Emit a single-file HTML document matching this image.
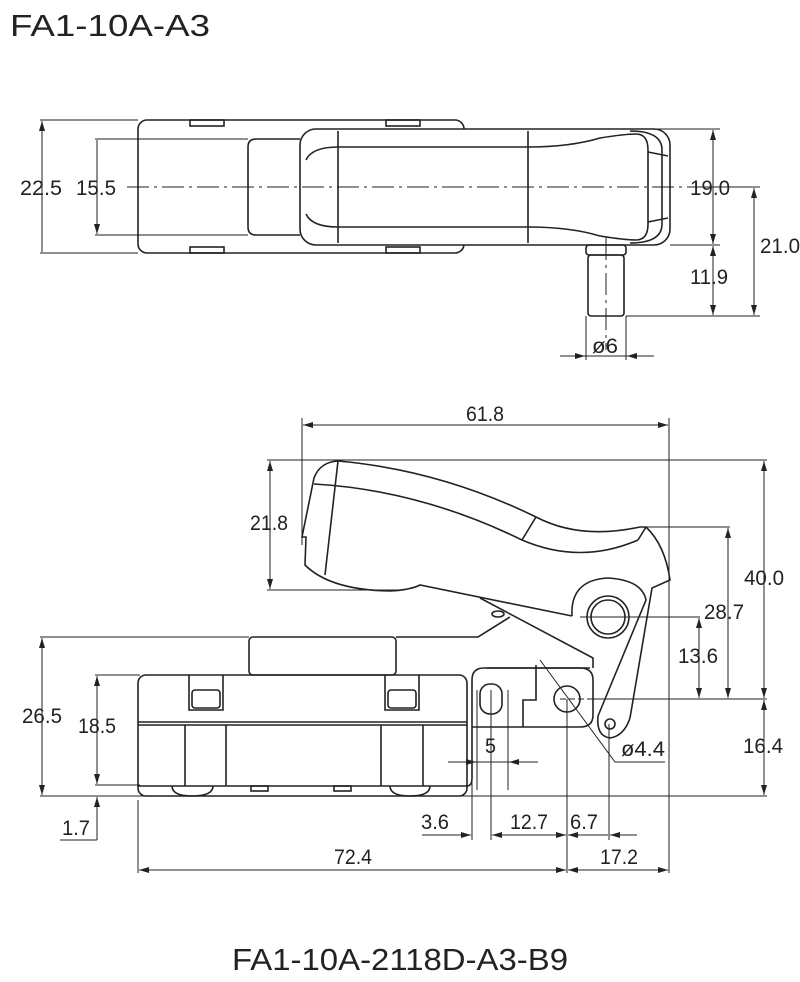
<!DOCTYPE html>
<html><head><meta charset="utf-8"><style>
html,body{margin:0;padding:0;background:#fff}
svg{display:block}
text{font-family:"Liberation Sans",sans-serif;fill:#222}
.d{font-size:21px}
</style></head><body>
<svg width="800" height="982" viewBox="0 0 800 982" xmlns="http://www.w3.org/2000/svg">
<defs>
<marker id="a" viewBox="0 0 10 6" refX="10" refY="3" markerWidth="10" markerHeight="6" orient="auto-start-reverse" markerUnits="userSpaceOnUse"><path d="M0,0 L10,3 L0,6z" fill="#222"/></marker>
</defs>
<text x="10" y="36" font-size="31" textLength="200" lengthAdjust="spacingAndGlyphs">FA1-10A-A3</text>
<text x="232" y="970" font-size="31" textLength="336" lengthAdjust="spacingAndGlyphs">FA1-10A-2118D-A3-B9</text>

<g fill="none" stroke="#222" stroke-width="1.6">
<rect x="138" y="120" width="326" height="133" rx="9"/>
<rect x="190" y="120" width="34" height="6"/><rect x="386" y="120" width="34" height="6"/>
<rect x="190" y="247" width="34" height="6"/><rect x="386" y="247" width="34" height="6"/>
<path d="M300,139 H256 Q248,139 248,147 V227 Q248,235 256,235 H300"/>
<rect x="300" y="129" width="370" height="116" rx="16" fill="#fff"/>
<path d="M338,131 V243 M528,131 V243"/>
<path d="M306,160 Q312,147 338,147 H528 Q570,147 600,138 Q625,134 636,134 M306,214 Q312,227 338,227 H528 Q570,227 600,236 Q625,240 636,240"/>
<path d="M636,134 Q648,134 648,150 V224 Q648,240 636,240"/>
<path d="M630,131 Q662,131 662,150 V224 Q662,243 630,243"/>
<path d="M648,152 L668,156 M648,222 L668,218"/>
<rect x="586" y="245" width="40" height="10" rx="3"/>
<rect x="588" y="255" width="36" height="61" rx="3"/>
</g>
<g fill="none" stroke="#222" stroke-width="1">
<path d="M127,187 H760" stroke-dasharray="22,5,3,5"/>
<path d="M606,238 V350" stroke-dasharray="22,5,3,5"/>
<path d="M40,120 H138 M40,253 H138 M95,139 H248 M95,235 H248"/>
<path d="M42,121 V252 M97,140 V234" marker-start="url(#a)" marker-end="url(#a)"/>
<path d="M650,129 H720 M670,245 H720 M626,316 H760 M760,187 H700"/>
<path d="M713,130 V244" marker-start="url(#a)" marker-end="url(#a)"/>
<path d="M713,246 V315" marker-start="url(#a)" marker-end="url(#a)"/>
<path d="M754,188 V315" marker-start="url(#a)" marker-end="url(#a)"/>
<path d="M586,316 V360 M626,316 V360"/>
<path d="M560,356 H585" marker-end="url(#a)"/><path d="M654,356 H627" marker-end="url(#a)"/>
<path d="M585,356 H627"/>
</g>
<g class="d" lengthAdjust="spacingAndGlyphs">
<text x="20" y="195" textLength="42" lengthAdjust="spacingAndGlyphs">22.5</text>
<text x="76" y="195" textLength="40" lengthAdjust="spacingAndGlyphs">15.5</text>
<text x="690" y="195" textLength="40" lengthAdjust="spacingAndGlyphs">19.0</text>
<text x="760" y="253" textLength="40" lengthAdjust="spacingAndGlyphs">21.0</text>
<text x="690" y="284" textLength="38" lengthAdjust="spacingAndGlyphs">11.9</text>
<text x="592" y="353" textLength="26" lengthAdjust="spacingAndGlyphs">ø6</text>
</g>

<g fill="none" stroke="#222" stroke-width="1.6">
<path d="M338,461 Q320,462 314,478 L302,537 H306 L305,565 Q330,590 390,591 Q410,590 420,585 L572,616"/>
<path d="M338,461 Q440,470 536,517 Q580,540 640,527 L646,527 Q665,545 670,580 L652,588 L630,718"/>
<path d="M314,484 Q420,490 522,540 Q580,565 638,540"/>
<path d="M536,517 L522,540 M638,540 L646,527 M338,461 L325,575"/>
<path d="M572,616 Q570,580 608,578 Q642,580 646,600 L598,716"/>
<circle cx="608" cy="617" r="21"/><circle cx="608" cy="617" r="17"/>
<circle cx="610" cy="724" r="5"/>
<path d="M598,716 Q596,736 610,738 Q624,736 630,718"/>
<path d="M480,598 L593,658 V668 M510,617 L478,637 H396"/>
<ellipse cx="498" cy="614" rx="6" ry="3"/>
<rect x="249" y="637" width="147" height="38" rx="4"/>
<rect x="138" y="675" width="329" height="121" rx="8"/>
<path d="M138,722 H467 M138,725 H467"/>
<path d="M185,725 V786 M226,725 V786 M381,725 V786 M423,725 V786 M138,786 H467"/>
<path d="M189,675 V710 H223 V675 M385,675 V710 H419 V675"/>
<rect x="192" y="690" width="28" height="18" rx="3"/><rect x="388" y="690" width="28" height="18" rx="3"/>
<path d="M172,786 Q172,796 192,796 Q213,796 213,786 M390,786 Q390,796 410,796 Q430,796 430,786"/>
<rect x="251" y="786" width="17" height="5"/><rect x="334" y="786" width="17" height="5"/>
<path d="M467,786 Q472,786 472,778 V680 Q472,668 484,668 H580 Q593,668 593,680 V715 Q593,727 580,727 H472"/>
<path d="M487,668 H590"/>
<path d="M523,727 V700 H536 V665"/>
<rect x="480" y="684" width="22" height="30" rx="10"/>
<circle cx="567" cy="699" r="13"/>
</g>
<g fill="none" stroke="#222" stroke-width="1">
<path d="M302,418 V545 M669,418 V873 M267,460 H767 M267,590 H400 M640,527 H730 M580,617 H700 M590,699 H767 M40,796 H767 M40,637 H249 M95,675 H140 M95,785 H140 M60,840 H97"/>
<path d="M303,425 H668" marker-start="url(#a)" marker-end="url(#a)"/>
<path d="M270,461 V589" marker-start="url(#a)" marker-end="url(#a)"/>
<path d="M764,461 V698" marker-start="url(#a)" marker-end="url(#a)"/>
<path d="M728,528 V698" marker-start="url(#a)" marker-end="url(#a)"/>
<path d="M699,618 V698" marker-start="url(#a)" marker-end="url(#a)"/>
<path d="M764,700 V795" marker-start="url(#a)" marker-end="url(#a)"/>
<path d="M42,638 V795" marker-start="url(#a)" marker-end="url(#a)"/>
<path d="M97,676 V784" marker-start="url(#a)" marker-end="url(#a)"/>
<path d="M97,840 V797" marker-end="url(#a)"/>
<path d="M477,690 V790 M508,690 V790"/>
<path d="M448,762 H476" marker-end="url(#a)"/><path d="M538,762 H509" marker-end="url(#a)"/><path d="M476,762 H509"/>
<path d="M472,740 V840 M491,690 V840 M567,699 V873 M609,724 V840 M138,800 V873"/>
<path d="M422,835 H471" marker-end="url(#a)"/>
<path d="M492,835 H566" marker-start="url(#a)" marker-end="url(#a)"/>
<path d="M568,835 H608" marker-start="url(#a)"/>
<path d="M637,835 H610" marker-end="url(#a)"/>
<path d="M139,870 H566" marker-start="url(#a)" marker-end="url(#a)"/>
<path d="M568,870 H668" marker-start="url(#a)" marker-end="url(#a)"/>
<path d="M540,660 L615,762 H665"/>
<path d="M491,690 V710 M560,699 H590" stroke-dasharray="6,3"/>
</g>
<g class="d">
<text x="466" y="421" textLength="38" lengthAdjust="spacingAndGlyphs">61.8</text>
<text x="250" y="530" textLength="38" lengthAdjust="spacingAndGlyphs">21.8</text>
<text x="744" y="585" textLength="40" lengthAdjust="spacingAndGlyphs">40.0</text>
<text x="704" y="619" textLength="40" lengthAdjust="spacingAndGlyphs">28.7</text>
<text x="678" y="663" textLength="40" lengthAdjust="spacingAndGlyphs">13.6</text>
<text x="743" y="753" textLength="40" lengthAdjust="spacingAndGlyphs">16.4</text>
<text x="22" y="723" textLength="40" lengthAdjust="spacingAndGlyphs">26.5</text>
<text x="78" y="733" textLength="38" lengthAdjust="spacingAndGlyphs">18.5</text>
<text x="62" y="835" textLength="28" lengthAdjust="spacingAndGlyphs">1.7</text>
<text x="485" y="753" textLength="11" lengthAdjust="spacingAndGlyphs">5</text>
<text x="621" y="756" textLength="44" lengthAdjust="spacingAndGlyphs">ø4.4</text>
<text x="421" y="829" textLength="28" lengthAdjust="spacingAndGlyphs">3.6</text>
<text x="510" y="829" textLength="38" lengthAdjust="spacingAndGlyphs">12.7</text>
<text x="570" y="829" textLength="28" lengthAdjust="spacingAndGlyphs">6.7</text>
<text x="334" y="864" textLength="38" lengthAdjust="spacingAndGlyphs">72.4</text>
<text x="600" y="864" textLength="38" lengthAdjust="spacingAndGlyphs">17.2</text>
</g>
</svg>
</body></html>
